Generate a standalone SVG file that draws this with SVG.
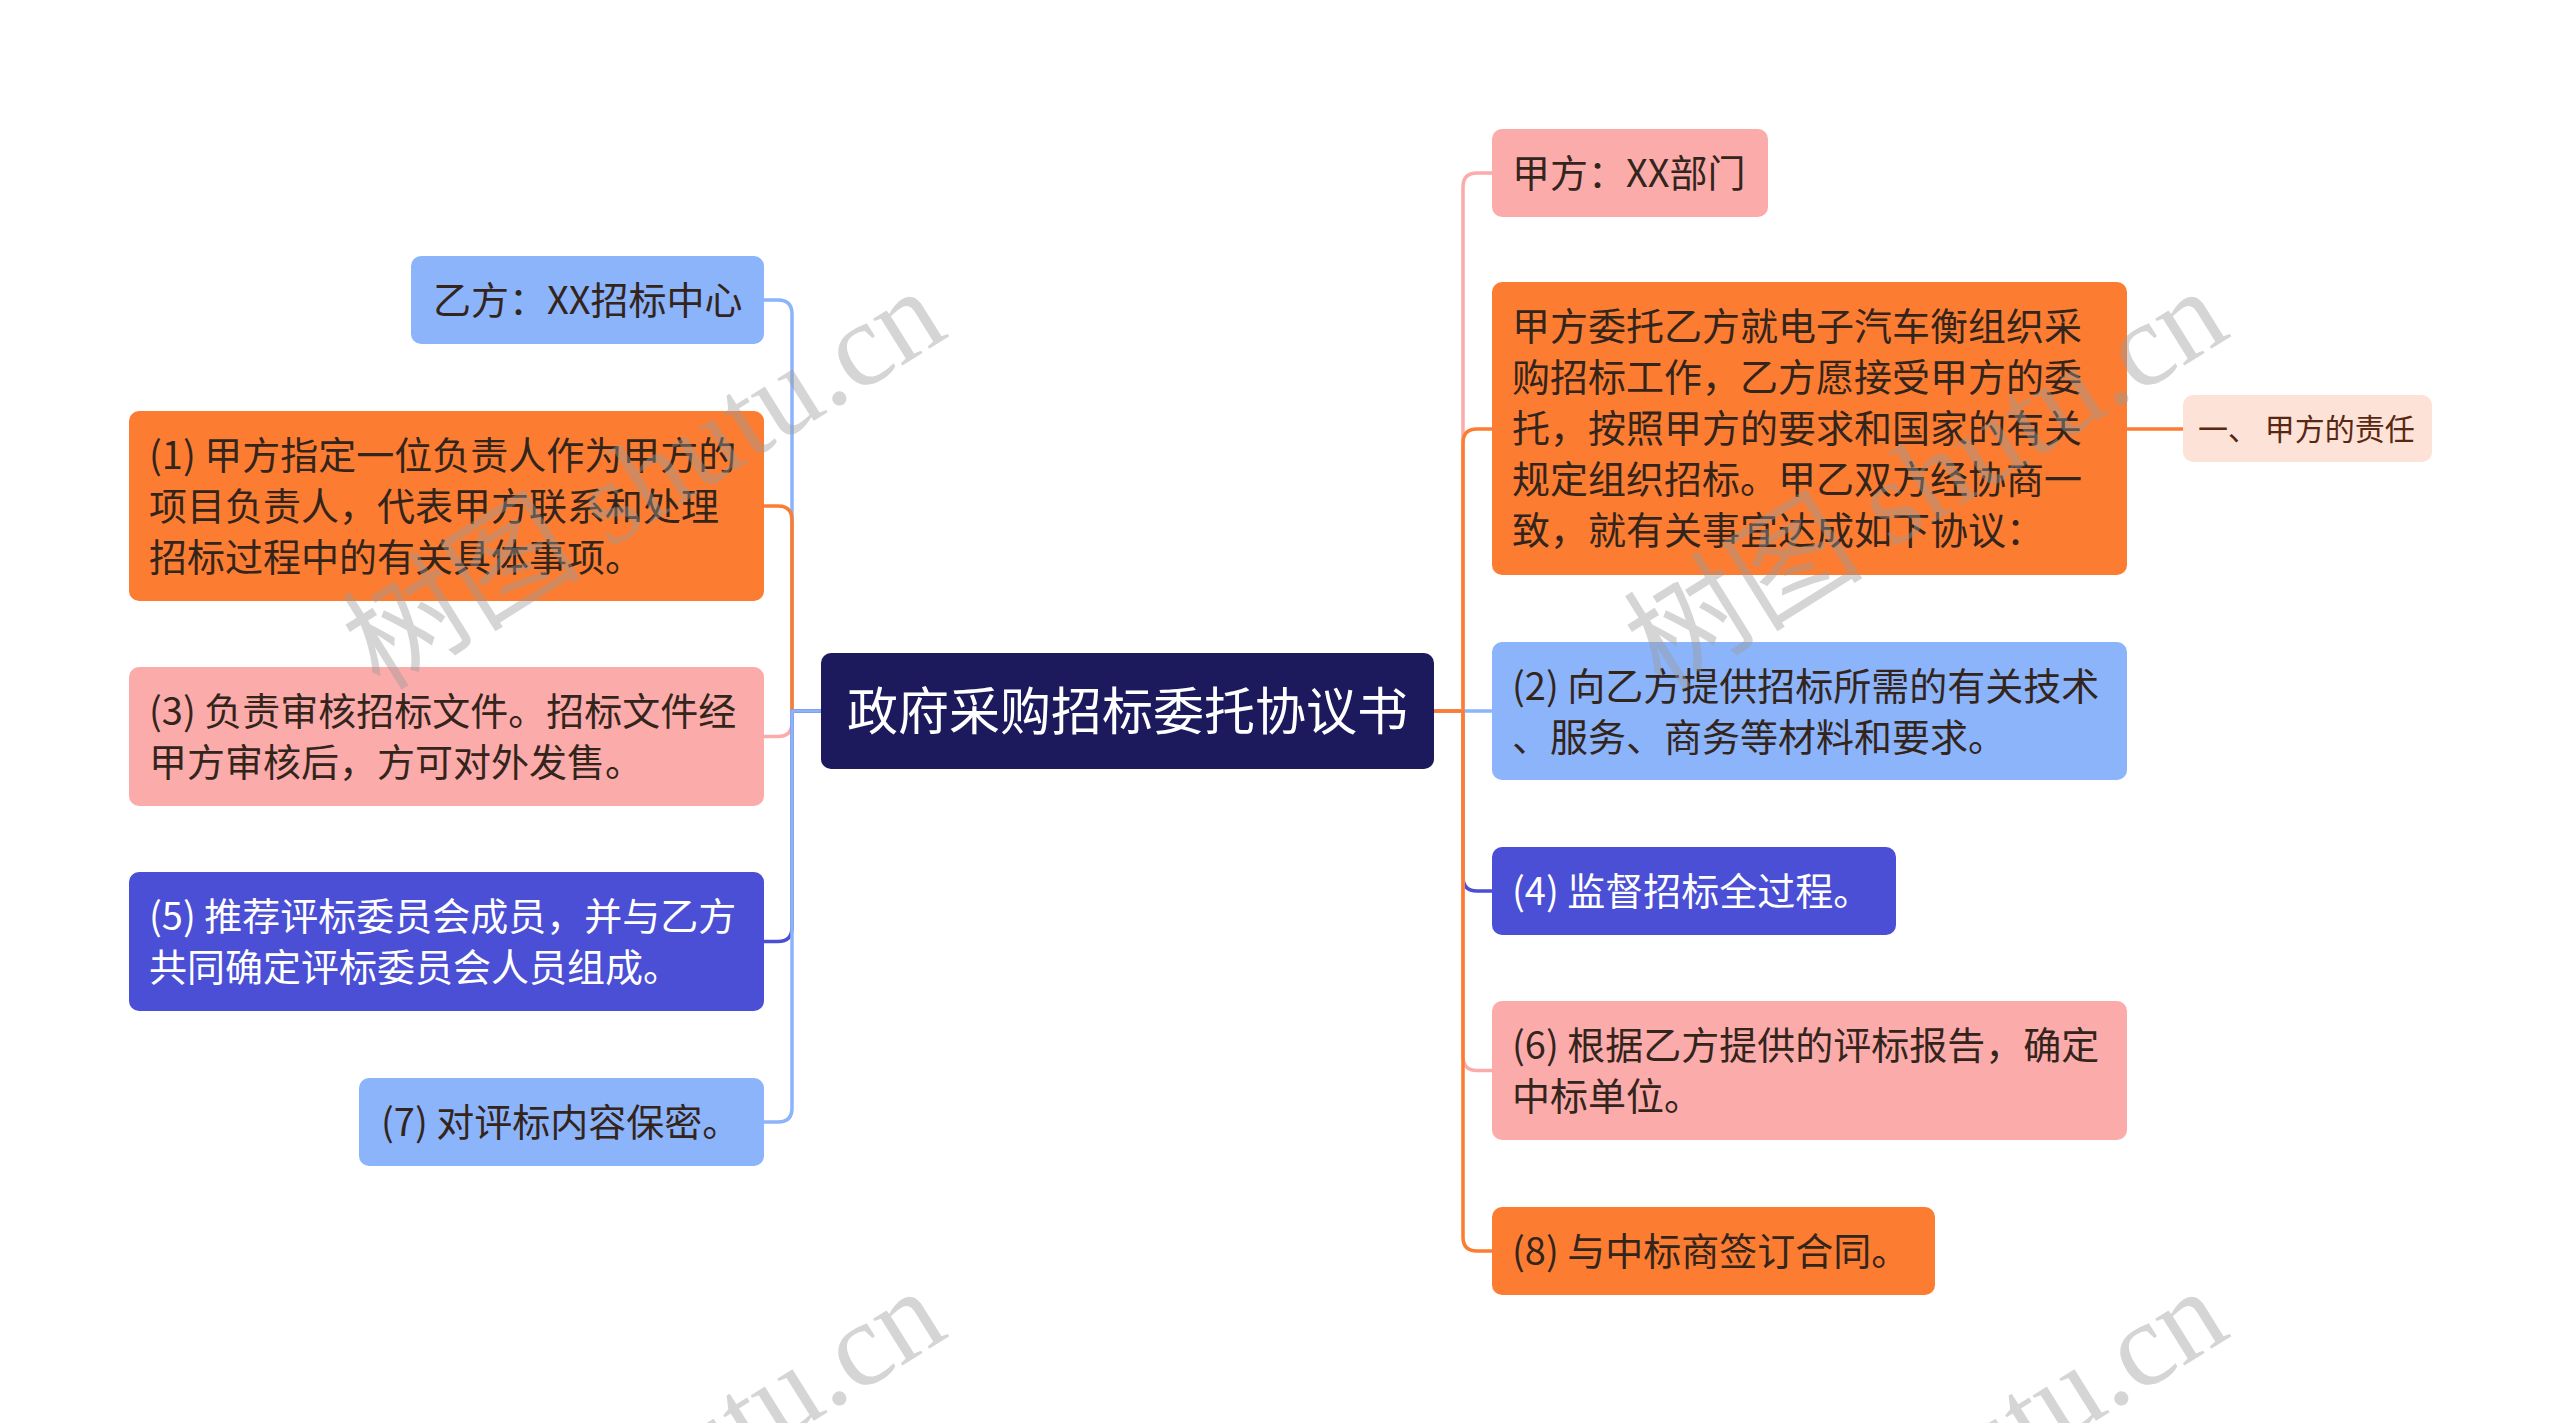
<svg xmlns="http://www.w3.org/2000/svg" width="2560" height="1423" viewBox="0 0 2560 1423">
<style>
.t{font-family:"Noto Sans CJK SC","Noto Sans",sans-serif;font-size:38px;fill:#33251c}
.tw{fill:#ffffff}
.tc{font-size:51px;fill:#ffffff}
.ts{font-size:30px;fill:#5a2812}
.c{fill:none;stroke-width:3.5;stroke-linecap:round;stroke-linejoin:round}
.blue{fill:#8cb4fa}
.orange{fill:#fc7d32}
.pink{fill:#fcabab}
.indigo{fill:#4a4fd5}
.peach{fill:#fde3d7}
.wm{font-family:"Liberation Serif","Noto Sans CJK SC",serif;font-size:120px;fill:#9a9a9a;fill-opacity:0.42}
</style>
<rect x="0" y="0" width="2560" height="1423" fill="#ffffff"/>
<g id="connectors">
<path class="c" stroke="#8cb4fa" d="M821 711 H792 V314 Q792 300 778 300 H764"/>
<path class="c" stroke="#fc7d32" d="M821 711 H792 V520 Q792 506 778 506 H764"/>
<path class="c" stroke="#fcabab" d="M821 711 H792 V722.5 Q792 736.5 778 736.5 H764"/>
<path class="c" stroke="#4a4fd5" d="M821 711 H792 V927.5 Q792 941.5 778 941.5 H764"/>
<path class="c" stroke="#8cb4fa" d="M821 711 H792 V1108 Q792 1122 778 1122 H764"/>
<path class="c" stroke="#fcabab" d="M1434 711 H1463 V187 Q1463 173 1477 173 H1492"/>
<path class="c" stroke="#fc7d32" d="M1434 711 H1463 V443 Q1463 429 1477 429 H1492"/>
<path class="c" stroke="#8cb4fa" d="M1434 711 H1492"/>
<path class="c" stroke="#4a4fd5" d="M1434 711 H1463 V877 Q1463 891 1477 891 H1492"/>
<path class="c" stroke="#fcabab" d="M1434 711 H1463 V1056.5 Q1463 1070.5 1477 1070.5 H1492"/>
<path class="c" stroke="#fc7d32" d="M1434 711 H1463 V1237 Q1463 1251 1477 1251 H1492"/>
<path class="c" stroke="#fc7d32" d="M2127 429 H2183"/>
</g>
<g id="root">
<rect x="821" y="653" width="613" height="116" rx="10" fill="#1c1a5c"/>
<text class="t tc" x="847" y="730">政府采购招标委托协议书</text>
</g>
<g id="node-yifang">
<rect class="blue" x="411" y="256" width="353" height="88" rx="10"/>
<text class="t" x="433" y="314">乙方：XX招标中心</text>
</g>
<g id="node-1">
<rect class="orange" x="129" y="411" width="635" height="190" rx="10"/>
<text class="t" x="149" y="469">(1) 甲方指定一位负责人作为甲方的</text>
<text class="t" x="149" y="520">项目负责人，代表甲方联系和处理</text>
<text class="t" x="149" y="571">招标过程中的有关具体事项。</text>
</g>
<g id="node-3">
<rect class="pink" x="129" y="667" width="635" height="139" rx="10"/>
<text class="t" x="149" y="725">(3) 负责审核招标文件。招标文件经</text>
<text class="t" x="149" y="776">甲方审核后，方可对外发售。</text>
</g>
<g id="node-5">
<rect class="indigo" x="129" y="872" width="635" height="139" rx="10"/>
<text class="t tw" x="149" y="930">(5) 推荐评标委员会成员，并与乙方</text>
<text class="t tw" x="149" y="981">共同确定评标委员会人员组成。</text>
</g>
<g id="node-7">
<rect class="blue" x="359" y="1078" width="405" height="88" rx="10"/>
<text class="t" x="381" y="1136">(7) 对评标内容保密。</text>
</g>
<g id="node-jiafang">
<rect class="pink" x="1492" y="129" width="276" height="88" rx="10"/>
<text class="t" x="1512" y="187">甲方：XX部门</text>
</g>
<g id="node-intro">
<rect class="orange" x="1492" y="282" width="635" height="293" rx="10"/>
<text class="t" x="1512" y="340">甲方委托乙方就电子汽车衡组织采</text>
<text class="t" x="1512" y="391">购招标工作，乙方愿接受甲方的委</text>
<text class="t" x="1512" y="442">托，按照甲方的要求和国家的有关</text>
<text class="t" x="1512" y="493">规定组织招标。甲乙双方经协商一</text>
<text class="t" x="1512" y="544">致，就有关事宜达成如下协议：</text>
</g>
<g id="node-duty">
<rect class="peach" x="2183" y="395" width="249" height="67" rx="10"/>
<text class="t ts" x="2198" y="440" xml:space="preserve">一、 甲方的责任</text>
</g>
<g id="node-2">
<rect class="blue" x="1492" y="642" width="635" height="138" rx="10"/>
<text class="t" x="1512" y="700">(2) 向乙方提供招标所需的有关技术</text>
<text class="t" x="1512" y="751">、服务、商务等材料和要求。</text>
</g>
<g id="node-4">
<rect class="indigo" x="1492" y="847" width="404" height="88" rx="10"/>
<text class="t tw" x="1512" y="905">(4) 监督招标全过程。</text>
</g>
<g id="node-6">
<rect class="pink" x="1492" y="1001" width="635" height="139" rx="10"/>
<text class="t" x="1512" y="1059">(6) 根据乙方提供的评标报告，确定</text>
<text class="t" x="1512" y="1110">中标单位。</text>
</g>
<g id="node-8">
<rect class="orange" x="1492" y="1207" width="443" height="88" rx="10"/>
<text class="t" x="1512" y="1265">(8) 与中标商签订合同。</text>
</g>
<g id="watermark">
<text class="wm" transform="translate(380 692) rotate(-32)">树图 shutu.cn</text>
<text class="wm" transform="translate(1662 692) rotate(-32)">树图 shutu.cn</text>
<text class="wm" transform="translate(380 1692) rotate(-32)">树图 shutu.cn</text>
<text class="wm" transform="translate(1662 1692) rotate(-32)">树图 shutu.cn</text>
</g>
</svg>
